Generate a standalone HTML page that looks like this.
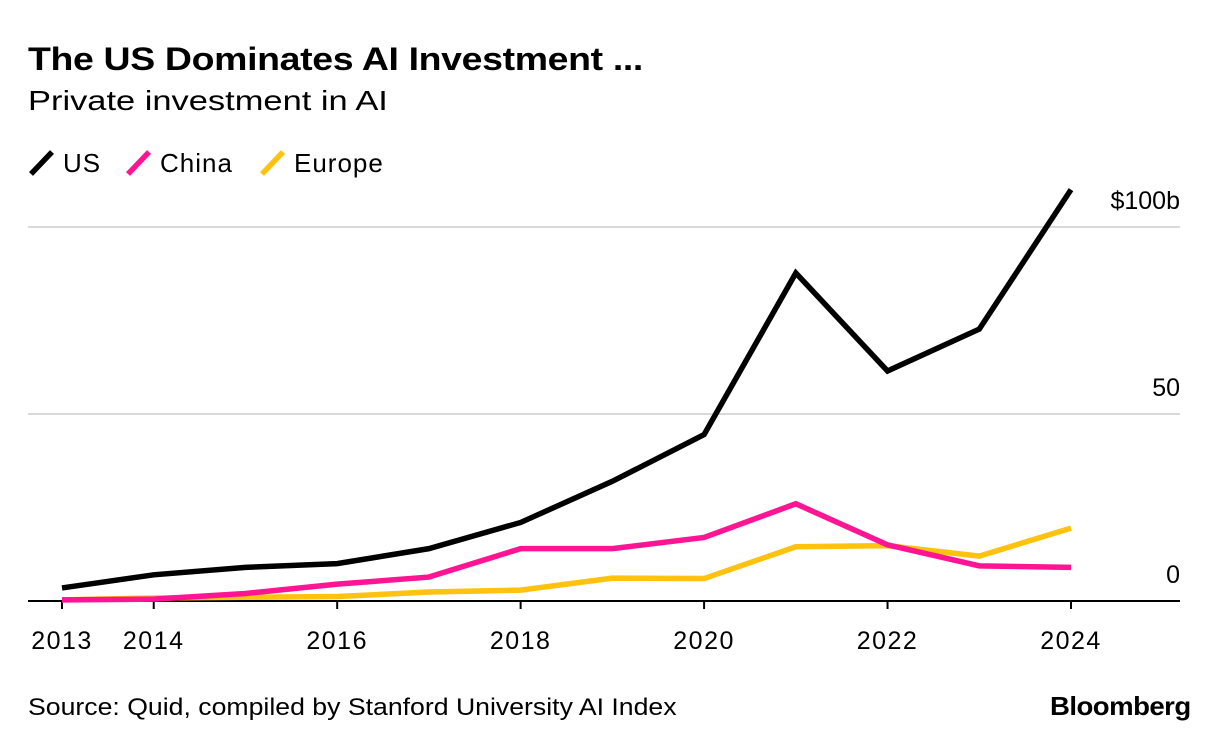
<!DOCTYPE html>
<html><head><meta charset="utf-8">
<style>
body{margin:0;width:1230px;height:750px;background:#fff;font-family:"Liberation Sans",sans-serif;overflow:hidden;position:relative}
.t{position:absolute;white-space:nowrap;color:#000;transform-origin:0 0}
</style></head><body>
<div class="t" style="left:28px;top:41px;font-size:32px;font-weight:bold;letter-spacing:-0.3px;transform:scaleX(1.17)">The US Dominates AI Investment ...</div>
<div class="t" style="left:28px;top:85px;font-size:28px;transform:scaleX(1.23)">Private investment in AI</div>
<div class="t" style="left:28px;top:694px;font-size:24px;transform:scaleX(1.11)">Source: Quid, compiled by Stanford University AI Index</div>
<div class="t" style="left:1050px;top:691px;font-size:26px;font-weight:bold;letter-spacing:-0.5px;transform:scaleX(1.06)">Bloomberg</div>
<svg id="chart" width="1230" height="750" style="position:absolute;left:0;top:0"></svg>
<script>
const years=[2013,2014,2015,2016,2017,2018,2019,2020,2021,2022,2023,2024];
const usValues=[3.5,7,9,10,14,21,32,44.5,87.7,61.5,72.7,110];
const chinaValues=[0.3,0.5,2,4.5,6.4,14,14,17,26,15,9.4,9];
const europeValues=[0.3,0.8,1,1.2,2.4,2.9,6.1,6,14.5,14.8,12,19.5];
const yTicks=[0,50,100];
const yTickLabels=["0","50","$100b"];
const xTickYears=[2013,2014,2016,2018,2020,2022,2024];
const NS="http://www.w3.org/2000/svg";
const svg=document.getElementById('chart');
const x=v=>62+(v-2013)*(1071-62)/11;
const y=v=>601-v*3.74;
function mk(tag,attrs){const e=document.createElementNS(NS,tag);for(const k in attrs)e.setAttribute(k,attrs[k]);svg.appendChild(e);return e;}
yTicks.forEach((t,i)=>{
  if(t>0){const g=mk('line',{x1:28,x2:1180,y1:y(t),y2:y(t),stroke:'#d9d9d9','stroke-width':2});
  
  }
  const l=mk('text',{x:1180,y:y(t)-18,'text-anchor':'end','font-size':25,'font-family':'Liberation Sans, sans-serif'});
  l.textContent=yTickLabels[i];
  
  
});
const ax=mk('line',{x1:28,x2:1180,y1:y(0),y2:y(0),stroke:'#000','stroke-width':2});


xTickYears.forEach(yr=>{
  const tk=mk('line',{x1:x(yr),x2:x(yr),y1:y(0),y2:y(0)+8,stroke:'#000','stroke-width':2});
  
  
  const l=mk('text',{x:x(yr),y:649,'text-anchor':'middle','font-size':25,'letter-spacing':1.5,'font-family':'Liberation Sans, sans-serif'});
  l.textContent=yr;
  
  
});
function series(vals,color,name){
  const p=mk('polyline',{points:vals.map((v,i)=>x(years[i])+','+y(v)).join(' '),fill:'none',stroke:color,'stroke-width':5.5,'stroke-linejoin':'miter'});
  
  
}
series(europeValues,'#ffc20e','europe-line');
series(chinaValues,'#ff1493','china-line');
series(usValues,'#000','us-line');
const legend=[['US','#000',28],['China','#ff1493',125],['Europe','#ffc20e',259]];
legend.forEach(([n,c,lx])=>{
  const s=mk('line',{x1:lx+3,y1:174,x2:lx+24,y2:152,stroke:c,'stroke-width':5.5});
  
  
  const t=mk('text',{x:lx+35,y:172,'font-size':26,'letter-spacing':1,'font-family':'Liberation Sans, sans-serif'});
  t.textContent=n;
  
  
});
</script>
</body></html>
